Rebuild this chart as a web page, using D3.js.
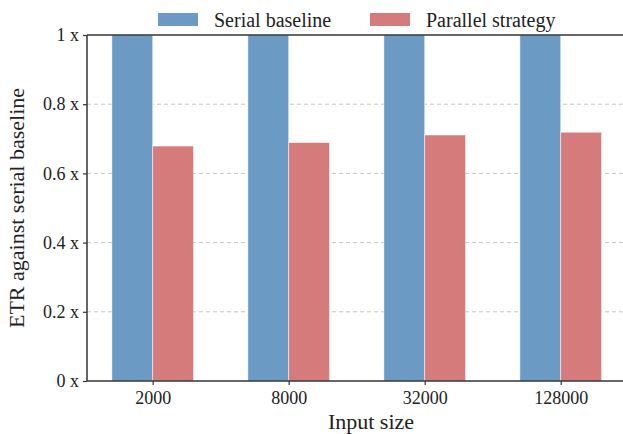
<!DOCTYPE html>
<html>
<head>
<meta charset="utf-8">
<script src="https://cdn.jsdelivr.net/npm/d3@7"></script>
<style>
  body { margin: 0; background: #fff; }
  svg { font-family: "Liberation Serif", "Times New Roman", serif; }
</style>
</head>
<body>
<svg id="chart"></svg>
<script>
const categories = ["2000", "8000", "32000", "128000"];
const serialValues = [1, 1, 1, 1];
const parallelValues = [0.679, 0.689, 0.711, 0.719];
const yTicks = [0, 0.2, 0.4, 0.6, 0.8, 1];
const seriesNames = ["Serial baseline", "Parallel strategy"];
const colors = ["#6b9ac4", "#d67b7b"];

const width = 623, height = 434;
const margin = { left: 87, top: 35, bottom: 53 };
const plotBottom = height - margin.bottom;

const svg = d3.select("#chart").attr("width", width).attr("height", height);

// categories sit on integer positions like matplotlib's bar layout
const x = d3.scaleLinear().domain([-0.483, 3.458]).range([margin.left, width]);
const y = d3.scaleLinear().domain([0, 1]).range([plotBottom, margin.top]);
const barW = x(0.3) - x(0);

// dashed grid
svg.append("g").selectAll("line")
  .data(yTicks.filter(d => d > 0 && d < 1))
  .enter().append("line")
  .attr("x1", margin.left).attr("x2", width)
  .attr("y1", d => y(d)).attr("y2", d => y(d))
  .attr("stroke", "#c4c4c4").attr("stroke-width", 1)
  .attr("stroke-dasharray", "4,3");

const series = [serialValues, parallelValues];
series.forEach((vals, s) => {
  svg.append("g").selectAll("rect")
    .data(vals)
    .enter().append("rect")
    .attr("x", (d, i) => s === 0 ? x(i) - barW : x(i))
    .attr("width", barW)
    .attr("y", d => y(d))
    .attr("height", d => y(0) - y(d))
    .attr("fill", colors[s])
    .attr("stroke", "#ffffff").attr("stroke-opacity", 0.6).attr("stroke-width", 0.8);
});

// axes
const yAxis = d3.axisLeft(y).tickValues(yTicks).tickSize(4).tickPadding(4)
  .tickFormat(d => d3.format("~g")(d) + " x");
const yg = svg.append("g").attr("transform", `translate(${margin.left},0)`).call(yAxis);

const xAxis = d3.axisBottom(x).tickValues(d3.range(categories.length)).tickSize(4).tickPadding(6)
  .tickFormat(i => categories[i]);
const xg = svg.append("g").attr("transform", `translate(0,${plotBottom})`).call(xAxis);

[yg, xg].forEach(g => {
  g.select(".domain").remove();
  g.selectAll("line").attr("stroke", "#333").attr("stroke-width", 1.2);
  g.selectAll("text").attr("fill", "#222").style("font-size", "18px")
    .style("font-family", '"Liberation Serif", serif');
});

// spines
svg.append("line").attr("x1", margin.left).attr("x2", margin.left)
  .attr("y1", margin.top).attr("y2", plotBottom).attr("stroke", "#333").attr("stroke-width", 1.5);
svg.append("line").attr("x1", margin.left).attr("x2", width)
  .attr("y1", plotBottom).attr("y2", plotBottom).attr("stroke", "#333").attr("stroke-width", 1.5);
svg.append("line").attr("x1", margin.left).attr("x2", width)
  .attr("y1", margin.top).attr("y2", margin.top).attr("stroke", "#333").attr("stroke-width", 1.5);

// axis titles
svg.append("text").attr("x", (margin.left + width) / 2 + 16).attr("y", 429)
  .attr("text-anchor", "middle").style("font-size", "22px").attr("fill", "#222")
  .text("Input size");
svg.append("text").attr("transform", `translate(24,${(margin.top + plotBottom) / 2}) rotate(-90)`)
  .attr("text-anchor", "middle").style("font-size", "22px").attr("fill", "#222")
  .text("ETR against serial baseline");

// legend
const legendX = [158, 370];
const legend = svg.append("g").selectAll("g").data(seriesNames).enter().append("g")
  .attr("transform", (d, i) => `translate(${legendX[i]},13)`);
legend.append("rect").attr("width", 40).attr("height", 13)
  .attr("fill", (d, i) => colors[i]);
legend.append("text").attr("x", 56).attr("y", 13.5)
  .style("font-size", "20px").attr("fill", "#222").text(d => d);
</script>
</body>
</html>
